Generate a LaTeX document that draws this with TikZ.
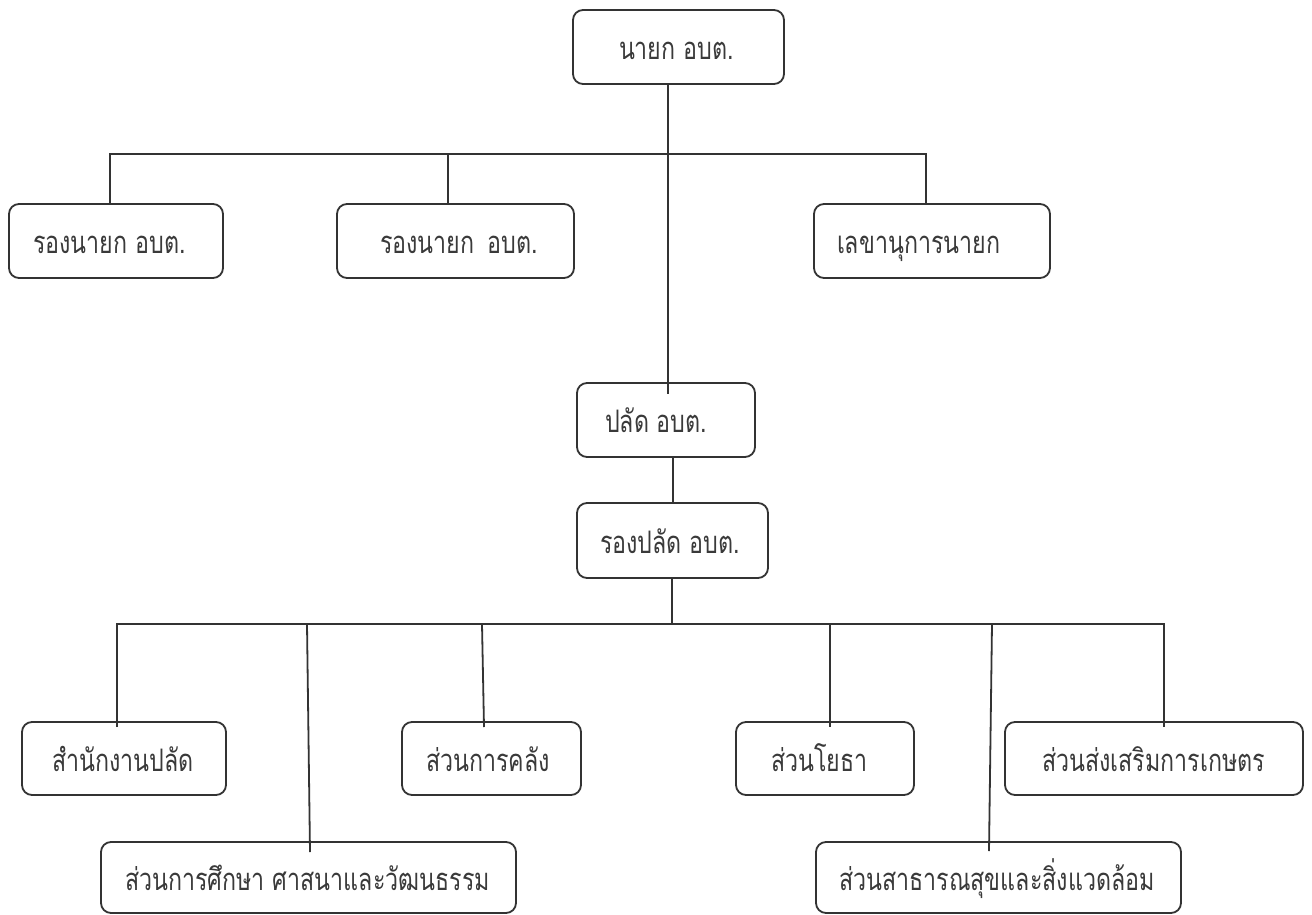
\documentclass[tikz,border=0pt]{standalone}
\usepackage{fontspec}
\newfontfamily\thaifont[Script=Thai,FakeStretch=0.75]{Loma}
\definecolor{linec}{HTML}{333333}
\definecolor{textc}{HTML}{3A3A3A}
\newcommand\bxt[2]{\makebox[#1pt][l]{#2}}
\begin{document}
\begin{tikzpicture}[x=1pt,y=-1pt]
\tikzset{
  box/.style={draw=linec, line width=1.8pt, rounded corners=10pt, inner ysep=0pt,
    minimum height=74pt, text=textc, font=\thaifont\fontsize{31}{34}\selectfont,
    text height=25pt, text depth=0pt},
  conn/.style={draw=linec, line width=1.8pt},
}
\useasboundingbox (0,0) rectangle (1312,915);
% level 0
\node[box, inner xsep=46pt] (top) at (678.5,47) {\bxt{119}{นายก อบต.}};
% level 1
\node[box, inner xsep=24pt] (vp1) at (116,241) {\bxt{166}{รองนายก อบต.}};
\node[box, inner xsep=43pt] (vp2) at (455.5,241) {\bxt{151}{รองนายก\hspace{5pt} อบต.}};
\node[box, inner xsep=23pt] (sec) at (932,241) {\bxt{190}{เลขานุการนายก}};
% middle
\node[box, inner xsep=28pt] (pl) at (666,420) {\bxt{122}{ปลัด อบต.}};
\node[box, inner xsep=23pt, minimum height=75pt] (rpl) at (672.5,540.5) {\bxt{145}{รองปลัด อบต.}};
% bottom
\node[box, inner xsep=30pt, minimum height=73pt] (b1) at (124,758.5) {\bxt{144}{สำนักงานปลัด}};
\node[box, inner xsep=24pt, minimum height=73pt] (b2) at (491.5,758.5) {\bxt{131}{ส่วนการคลัง}};
\node[box, inner xsep=35pt, minimum height=73pt] (b3) at (825,758.5) {\bxt{108}{ส่วนโยธา}};
\node[box, inner xsep=37pt, minimum height=73pt] (b4) at (1154,758.5) {\bxt{224}{ส่วนส่งเสริมการเกษตร}};
\node[box, inner xsep=24pt, minimum height=71pt] (b5) at (308.5,877.5) {\bxt{367}{ส่วนการศึกษา ศาสนาและวัฒนธรรม}};
\node[box, inner xsep=23pt, minimum height=71pt] (b6) at (998.5,877.5) {\bxt{319}{ส่วนสาธารณสุขและสิ่งแวดล้อม}};
% connector coordinates
\coordinate (t1) at (668,394);
\coordinate (h1) at (110,154);
\coordinate (h2) at (926,154);
\coordinate (h3) at (448,154);
\coordinate (c1) at (673,480);
\coordinate (c2) at (672,624);
\coordinate (g1) at (117,624);
\coordinate (g6) at (1164,624);
\coordinate (g2) at (307,624);
\coordinate (e2) at (310,852);
\coordinate (g3) at (482,624);
\coordinate (e3) at (484,727);
\coordinate (g4) at (830,624);
\coordinate (g5) at (992,624);
\coordinate (e5) at (989,851);
\coordinate (e1) at (117,727);
\coordinate (e4) at (830,727);
\coordinate (e6) at (1164,727);
% upper connectors
\draw[conn] (top.south -| t1) -- (t1);
\draw[conn] (vp1.north -| h1) -- (h1) -- (h2) -- (sec.north -| h2);
\draw[conn] (h3) -- (vp2.north -| h3);
\draw[conn] (pl.south -| c1) -- (rpl.north -| c1);
\draw[conn] (rpl.south -| c2) -- (c2);
% lower connectors
\draw[conn] (e1) -- (g1) -- (g6) -- (e6);
\draw[conn] (g2) -- (e2);
\draw[conn] (g3) -- (e3);
\draw[conn] (g4) -- (e4);
\draw[conn] (g5) -- (e5);
\end{tikzpicture}
\end{document}
